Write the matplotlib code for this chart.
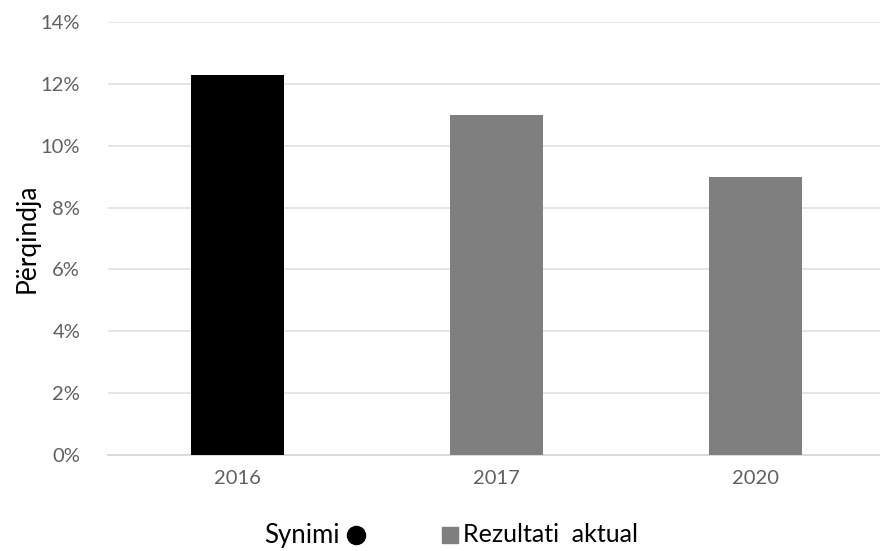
import matplotlib
matplotlib.use("Agg")
import matplotlib.pyplot as plt
from matplotlib.lines import Line2D
from matplotlib.ticker import FuncFormatter

years = ["2016", "2017", "2020"]
values = [0.123, 0.110, 0.090]
colors = ["#000000", "#7f7f7f", "#7f7f7f"]
yticks = [0, 0.02, 0.04, 0.06, 0.08, 0.10, 0.12, 0.14]
legend_labels = ["Synimi", "Rezultati  aktual"]

plt.rcParams["font.family"] = ["Lato", "DejaVu Sans"]

fig = plt.figure(figsize=(8.8, 5.51), dpi=100)
ax = fig.add_axes([0.1227, 0.1742, 0.877, 0.786])

x = list(range(len(years)))
ax.bar(x, values, width=0.36, color=colors, zorder=3)

ax.set_xlim(-0.5, 2.48)
ax.set_ylim(0, 0.14)
ax.set_yticks(yticks)
ax.yaxis.set_major_formatter(FuncFormatter(lambda v, _: f"{v * 100:.0f}%"))
ax.set_xticks(x)
ax.set_xticklabels(years)

ax.grid(axis="y", color="#e3e3e3", lw=1.3, zorder=0)
for s in ["top", "right", "left"]:
    ax.spines[s].set_visible(False)
ax.spines["bottom"].set_color("#d9d9d9")
ax.spines["bottom"].set_linewidth(1.3)
ax.tick_params(length=0, labelsize=14.5, labelcolor="#606060")
ax.tick_params(axis="y", pad=20)
ax.tick_params(axis="x", pad=11)

ax.set_ylabel("Përqindja", fontsize=19, color="#000000", labelpad=1)

# legend: first entry has its marker after the text, second before
ly = 1 - 535 / 551
fig.text(340 / 880, ly, legend_labels[0], ha="right", va="center",
         fontsize=18.5, color="#000000")
fig.add_artist(Line2D([356 / 880], [ly], marker="o", ms=13,
                      color="#000000", transform=fig.transFigure))
fig.add_artist(Line2D([450 / 880], [ly], marker="s", ms=11,
                      color="#7f7f7f", transform=fig.transFigure))
fig.text(463 / 880, ly, legend_labels[1], ha="left", va="center",
         fontsize=18, color="#000000")

fig.savefig("out.png", dpi=100)
